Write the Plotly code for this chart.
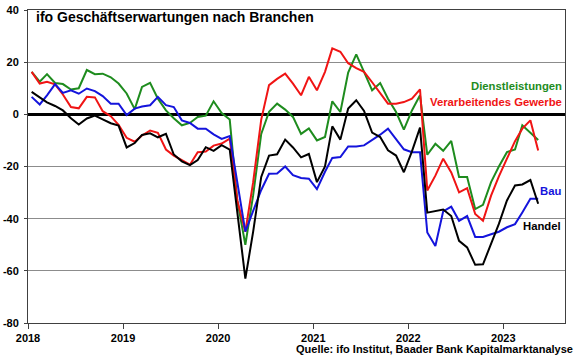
import plotly.graph_objects as go

# Monthly observations Jan 2018 .. May 2023 (plotted mid-month)
months = [f"{2018 + i // 12}-{i % 12 + 1:02d}-15" for i in range(65)]

dienstleistungen = [16.3, 12.5, 15.4, 12.0, 11.6, 9.5, 10.0, 17.0, 15.4, 15.6, 14.2, 11.8,
                    8.0, 2.0, 10.5, 12.1, 6.0, 1.5, -1.5, -4.2, -3.3, -1.0, -0.5, 5.0,
                    0.5, -2.0, -33.0, -50.0, -31.0, -7.5, 1.0, 4.1, 1.8, -1.0, -7.5, -5.4,
                    -10.0, -8.7, 5.0, 0.9, 16.0, 23.0, 16.3, 9.2, 12.0, 6.0, 0.9, -5.9,
                    1.5, 7.3, -15.5, -11.3, -14.0, -10.2, -24.0, -24.0, -36.3, -34.7, -26.0, -20.0,
                    -14.5, -13.5, -4.2, -7.0, -9.8]

verarbeitendes_gewerbe = [16.3, 11.8, 12.5, 11.5, 7.6, 2.8, 2.3, 6.7, 6.5, 1.2, -0.7, -4.0,
                          -9.0, -10.5, -8.1, -6.2, -7.1, -13.5, -15.8, -17.5, -19.3, -14.5, -14.3, -12.0,
                          -11.2, -9.3, -33.0, -45.0, -26.0, -2.0, 11.2, 13.6, 15.6, 11.8, 7.3, 14.4,
                          9.2, 16.3, 25.3, 24.0, 19.6, 17.7, 16.3, 12.3, 8.0, 4.1, 4.1, 4.7,
                          6.0, 9.6, -29.2, -23.5, -17.0, -22.3, -29.9, -28.3, -38.2, -40.8, -31.2, -23.8,
                          -17.0, -10.3, -5.5, -2.3, -13.9]

bau = [6.7, 3.8, 7.3, 11.6, 8.2, 9.2, 7.9, 9.9, 8.9, 7.0, 4.1, 4.1,
       -0.3, 2.2, 3.0, 3.5, 6.7, 3.5, 2.8, -2.3, -3.3, -5.5, -5.5, -7.7,
       -9.4, -8.3, -26.0, -45.0, -37.0, -29.0, -22.8, -22.7, -20.0, -23.3, -24.4, -24.7,
       -28.7, -22.0, -16.7, -16.4, -12.3, -12.3, -11.9, -10.0, -7.8, -5.5, -9.5, -13.4,
       -14.5, -14.5, -45.3, -50.5, -37.2, -35.4, -40.8, -39.0, -47.0, -47.0, -46.0, -45.0,
       -43.3, -42.1, -37.6, -32.4, -32.4]

handel = [8.6, 6.5, 4.6, 3.2, 1.5, -1.5, -3.9, -1.6, -0.5, -1.9, -3.4, -4.3,
          -12.7, -11.0, -7.9, -7.3, -8.8, -7.5, -15.4, -18.0, -19.5, -17.5, -12.6, -14.0,
          -11.8, -13.5, -37.0, -63.0, -45.0, -24.0, -15.8, -15.3, -9.7, -12.7, -16.5, -15.2,
          -26.0, -20.0, -4.6, -9.7, 2.2, 5.4, 1.3, -7.0, -8.7, -13.8, -15.8, -22.2,
          -14.2, -5.1, -37.7, -37.0, -36.5, -39.0, -48.5, -51.0, -57.7, -57.5, -50.0, -42.0,
          -33.0, -27.3, -26.9, -25.2, -34.3]

year_ticks = ["2018-01-01", "2019-01-01", "2020-01-01", "2021-01-01", "2022-01-01", "2023-01-01"]
year_labels = ["2018", "2019", "2020", "2021", "2022", "2023"]
y_ticks = [40, 20, 0, -20, -40, -60, -80]

GREEN = "#1e8c1e"
RED = "#f01414"
BLUE = "#1414dc"
BLACK = "#000000"

fig = go.Figure()
series = [
    ("Dienstleistungen", dienstleistungen, GREEN),
    ("Verarbeitendes Gewerbe", verarbeitendes_gewerbe, RED),
    ("Bau", bau, BLUE),
    ("Handel", handel, BLACK),
]
for name, vals, col in series:
    fig.add_trace(go.Scatter(x=months, y=vals, mode="lines", name=name,
                             line=dict(color=col, width=2)))

font_b = dict(family="Liberation Sans, Arial, sans-serif", size=11, color="#000000", weight="bold")

fig.update_layout(
    width=580, height=359,
    margin=dict(l=28, r=15, t=10, b=36),
    paper_bgcolor="white", plot_bgcolor="white",
    showlegend=False,
    xaxis=dict(
        type="date", range=["2018-01-01", "2023-08-26"],
        tickvals=year_ticks, ticktext=year_labels,
        ticks="outside", ticklen=5, tickcolor="#404040",
        showgrid=False, showline=True, linecolor="#404040", linewidth=1, mirror=True,
        tickfont=font_b, zeroline=False, automargin=False,
    ),
    yaxis=dict(
        range=[-80, 40], tickvals=y_ticks, ticktext=[str(v) for v in y_ticks],
        ticks="outside", ticklen=3, tickcolor="#404040",
        showgrid=True, gridcolor="#8c8c8c", gridwidth=1,
        showline=True, linecolor="#404040", linewidth=1, mirror=True,
        zeroline=True, zerolinecolor="#000000", zerolinewidth=3,
        tickfont=font_b, ticklabelstandoff=3, automargin=False,
    ),
)

def lab(text, x, y, col, size=11.3, xanchor="right", xref="paper", yref="y"):
    fig.add_annotation(text=text, x=x, y=y, xref=xref, yref=yref, showarrow=False,
                       xanchor=xanchor, yanchor="middle",
                       font=dict(family="Liberation Sans, Arial, sans-serif", size=size,
                                 color=col, weight="bold"))

lab("ifo Geschäftserwartungen nach Branchen", 0.012, 0.978, BLACK, size=14,
    xanchor="left", yref="paper")
lab("Dienstleistungen", 0.998, 10.8, GREEN)
lab("Verarbeitendes Gewerbe", 0.998, 4.6, RED)
lab("Bau", 0.996, -29.2, BLUE)
lab("Handel", 0.996, -43.0, BLACK)
lab("Quelle: ifo Institut, Baader Bank Kapitalmarktanalyse", 1.019, -0.082, BLACK,
    size=11, yref="paper")

fig.write_html("out.html",
               config={"displayModeBar": False},
               post_script="document.body.style.margin='0px';document.body.style.overflow='hidden';")
